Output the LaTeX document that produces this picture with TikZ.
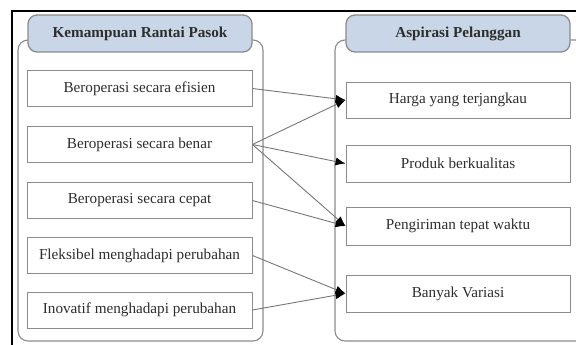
\documentclass[tikz,border=0pt]{standalone}
\usepackage{fontspec}
\setmainfont{Liberation Serif}
\usetikzlibrary{arrows.meta}
\definecolor{edgegray}{HTML}{8C8C8C}
\definecolor{headfill}{HTML}{C8D6E7}
\definecolor{inkgray}{HTML}{2E2E2E}
\begin{document}
\begin{tikzpicture}[x=1pt,y=-1pt,
  panel/.style={draw=edgegray, line width=1.1pt, rounded corners=10pt},
  header/.style={draw=edgegray, line width=1.3pt, fill=headfill, rounded corners=9pt,
    minimum width=224pt, minimum height=37pt, inner sep=0pt,
    font=\fontsize{15.2}{17}\selectfont\bfseries, text=inkgray},
  item/.style={draw=edgegray, line width=0.9pt, fill=white,
    minimum width=225pt, minimum height=36pt, inner sep=0pt,
    font=\fontsize{15.2}{17}\selectfont, text=inkgray},
  link/.style={draw=edgegray!85!black, line width=0.9pt, -{Latex[length=10pt,width=8pt,color=black]}}]
\useasboundingbox (0,0) rectangle (576,345);
\begin{scope}
\clip (0,0) rectangle (576,345);
% outer frame
\draw[black, line width=2.2pt] (12,350) -- (12,11) -- (590,11);
% panels
\draw[panel] (18,40) rectangle (263,341);
\draw[panel] (600,40) -- (335,40) -- (335,341) -- (600,341);
\end{scope}
% headers
\node[header] (hl) at (140,33.5) {Kemampuan Rantai Pasok};
\node[header] (hr) at (458,33.5) {Aspirasi Pelanggan};
% left items
\node[item] (l1) at (139.5,88.5) {Beroperasi secara efisien};
\node[item] (l2) at (139.5,144.5) {Beroperasi secara benar};
\node[item] (l3) at (139.5,200.5) {Beroperasi secara cepat};
\node[item] (l4) at (139.5,255.5) {Fleksibel menghadapi perubahan};
\node[item] (l5) at (139.5,310) {Inovatif menghadapi perubahan};
% right items
\node[item, minimum width=224pt] (r1) at (458,100) {Harga yang terjangkau};
\node[item, minimum width=224pt, minimum height=37pt] (r2) at (458,163.5) {Produk berkualitas};
\node[item, minimum width=224pt, minimum height=38pt] (r3) at (458,226) {Pengiriman tepat waktu};
\node[item, minimum width=224pt, minimum height=37pt] (r4) at (458,293.5) {Banyak Variasi};
% connectors
\draw[link] (l1.east) -- (r1.west);
\draw[link] (l2.east) -- (r1.west);
\draw[link] (l2.east) -- (r2.west);
\draw[link] (l2.east) -- (r3.west);
\draw[link] (l3.east) -- (r3.west);
\draw[link] (l4.east) -- (r4.west);
\draw[link] (l5.east) -- (r4.west);
\end{tikzpicture}
\end{document}
